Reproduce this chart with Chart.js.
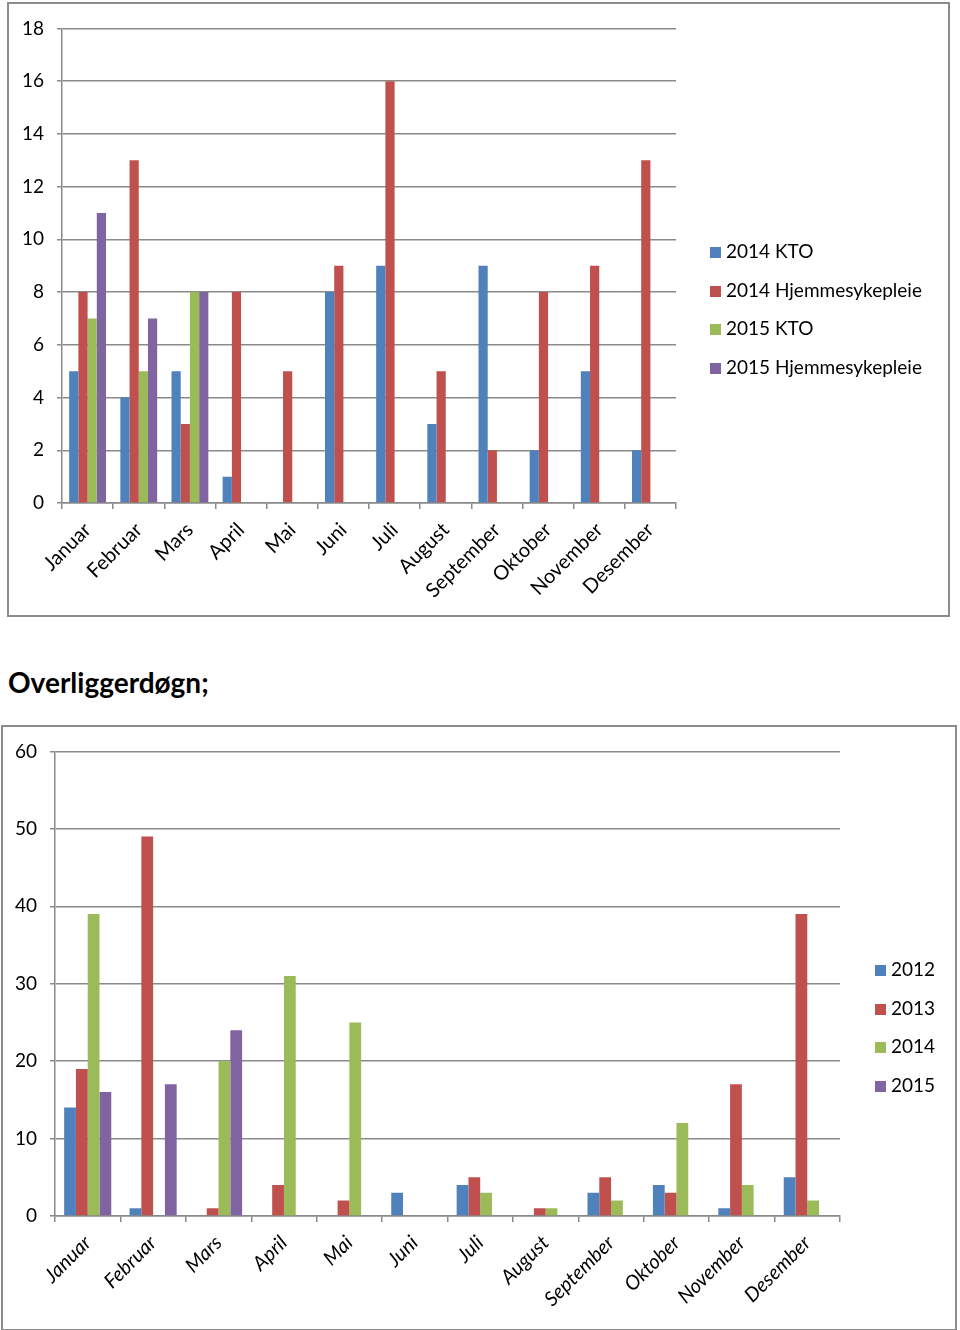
<!DOCTYPE html>
<html>
<head>
<meta charset="utf-8">
<script src="https://cdn.jsdelivr.net/npm/chart.js@4"></script>
<style>
  body { margin: 0; background: #fff; width: 960px; height: 1330px; position: relative; font-family: Lato, sans-serif; }
  .box { position: absolute; border: 2px solid #8c8c8c; box-sizing: border-box; background: #fff; }
  .box canvas { position: absolute; left: 0; top: 0; }
  #heading { position: absolute; left: 8px; top: 665px; font: bold 28px Lato, sans-serif; color: #000; }
  .legend { position: absolute; font: 19px Lato, sans-serif; color: #000; }
  .legend div { position: absolute; left: 0; white-space: nowrap; height: 20px; line-height: 20px; }
  .legend span { display: inline-block; width: 11px; height: 11px; margin-right: 5px; vertical-align: 0px; }
</style>
</head>
<body>
<div class="box" id="box1" style="left:7px; top:2px; width:943px; height:615px;">
  <canvas id="chart1" width="939" height="611"></canvas>
</div>
<div class="legend" id="legend1" style="left:710px; top:241px;"></div>

<div id="heading">Overliggerdøgn;</div>

<div class="box" id="box2" style="left:1px; top:725px; width:956px; height:606px;">
  <canvas id="chart2" width="952" height="602"></canvas>
</div>
<div class="legend" id="legend2" style="left:875px; top:959px;"></div>

<script>
const months = ['Januar', 'Februar', 'Mars', 'April', 'Mai', 'Juni', 'Juli', 'August', 'September', 'Oktober', 'November', 'Desember'];

// top chart
const kto2014 = [5, 4, 5, 1, null, 8, 9, 3, 9, 2, 5, 2];
const hjem2014 = [8, 13, 3, 8, 5, 9, 16, 5, 2, 8, 9, 13];
const kto2015 = [7, 5, 8, null, null, null, null, null, null, null, null, null];
const hjem2015 = [11, 7, 8, null, null, null, null, null, null, null, null, null];
const topNames = ['2014 KTO', '2014 Hjemmesykepleie', '2015 KTO', '2015 Hjemmesykepleie'];
const topMax = 18, topStep = 2;

// bottom chart (Overliggerdøgn)
const y2012 = [14, 1, null, null, null, 3, 4, null, 3, 4, 1, 5];
const y2013 = [19, 49, 1, 4, 2, null, 5, 1, 5, 3, 17, 39];
const y2014 = [39, null, 20, 31, 25, null, 3, 1, 2, 12, 4, 2];
const y2015 = [16, 17, 24, null, null, null, null, null, null, null, null, null];
const bottomNames = ['2012', '2013', '2014', '2015'];
const bottomMax = 60, bottomStep = 10;

const colors = ['#4F81BD', '#C0504D', '#9BBB59', '#8064A2'];
const gridColor = '#8a8a8a';

function makeChart(id, names, series, max, step, pad, axisW, axisH, italic) {
    return new Chart(document.getElementById(id), {
        type: 'bar',
        data: {
            labels: months,
            datasets: series.map((d, i) => ({
                label: names[i],
                data: d,
                backgroundColor: colors[i],
                borderWidth: 0,
                categoryPercentage: 0.72,
                barPercentage: 1
            }))
        },
        options: {
            responsive: false,
            animation: false,
            layout: { padding: pad },
            plugins: { legend: { display: false }, tooltip: { enabled: false } },
            scales: {
                x: {
                    grid: { drawOnChartArea: false, drawTicks: true, tickLength: 6, color: gridColor, lineWidth: 1.5, offset: true },
                    border: { color: gridColor, width: 1.5 },
                    ticks: {
                        maxRotation: 45, minRotation: 45, autoSkip: false, padding: 9,
                        color: '#000',
                        font: { family: 'Lato', size: 20, style: italic ? 'italic' : 'normal' }
                    },
                    afterFit: s => { s.height = axisH; }
                },
                y: {
                    min: 0, max: max,
                    grid: { color: gridColor, lineWidth: 1.5, tickLength: 5 },
                    border: { color: gridColor, width: 1.5 },
                    ticks: { stepSize: step, padding: 13, color: '#000', font: { family: 'Lato', size: 19 } },
                    afterFit: s => { s.width = axisW; }
                }
            }
        }
    });
}

function makeLegend(id, names, gap) {
    const el = document.getElementById(id);
    names.forEach((n, i) => {
        const row = document.createElement('div');
        row.style.top = (i * gap) + 'px';
        row.innerHTML = '<span style="background:' + colors[i] + '"></span>' + n;
        el.appendChild(row);
    });
}

makeChart('chart1', topNames, [kto2014, hjem2014, kto2015, hjem2015], topMax, topStep,
    { top: 23, right: 272, left: 0, bottom: 0 }, 53, 112, false);
makeChart('chart2', bottomNames, [y2012, y2013, y2014, y2015], bottomMax, bottomStep,
    { top: 22, right: 115, left: 0, bottom: 0 }, 52, 113, true);

makeLegend('legend1', topNames, 38.5);
makeLegend('legend2', bottomNames, 38.5);
</script>
</body>
</html>
